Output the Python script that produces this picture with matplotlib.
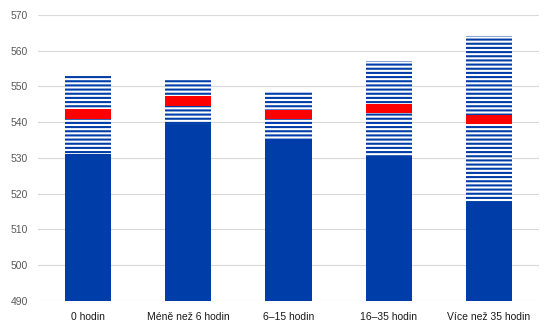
import matplotlib.pyplot as plt

categories = ['0 hodin', 'Méně než 6 hodin', '6–15 hodin', '16–35 hodin', 'Více než 35 hodin']
lower = [531, 539.6, 535.2, 530.6, 517.3]
upper = [553, 551.9, 548.5, 557.1, 564.2]
mean = [542.3, 545.9, 542.1, 543.8, 540.7]

base = 490
blue = '#003DA8'
red = '#FF0000'
band = 2.6
width = 0.46

plt.rcParams['font.family'] = ['Liberation Sans', 'DejaVu Sans']
plt.rcParams['hatch.linewidth'] = 1.5

fig = plt.figure(figsize=(5.54, 3.33), dpi=100)
ax = fig.add_axes([0.0686, 0.0961, 0.9044, 0.8589])

x = range(len(categories))
ax.bar(x, [l - base for l in lower], width, bottom=base, color=blue, linewidth=0, zorder=2)
ax.bar(x, [u - l for u, l in zip(upper, lower)], width, bottom=lower,
       facecolor='white', edgecolor=blue, hatch='----', linewidth=0, zorder=2)
ax.bar(x, [band] * len(mean), width, bottom=[m - band / 2 for m in mean],
       color=red, linewidth=0, zorder=3)

ax.set_xlim(-0.5, len(categories) - 0.5)
ax.set_ylim(490, 570)
ax.set_yticks(range(490, 571, 10))
ax.set_xticks(list(x))
ax.set_xticklabels(categories)
ax.grid(axis='y', color='#D9D9D9', linewidth=0.8, zorder=0)
ax.set_axisbelow(True)
for s in ax.spines.values():
    s.set_visible(False)
ax.tick_params(length=0, labelsize=7.5, colors='#595959', pad=7)
ax.tick_params(axis='x', labelcolor='#1a1a1a', pad=8)

fig.savefig('out.png', dpi=100)
